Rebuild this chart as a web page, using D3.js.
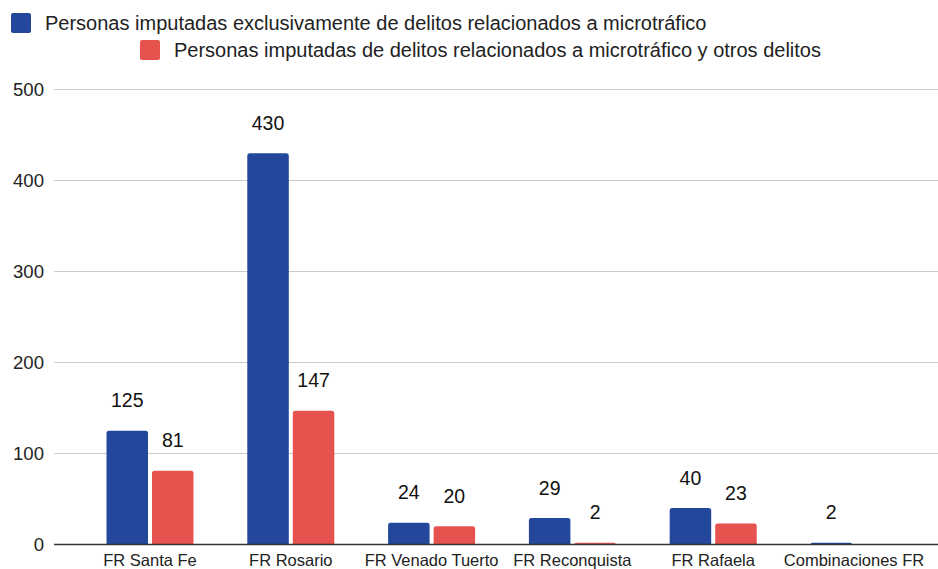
<!DOCTYPE html>
<html>
<head>
<meta charset="utf-8">
<script src="https://cdn.jsdelivr.net/npm/d3@7"></script>
<style>
  body { margin: 0; background: #fff; }
  svg text { font-family: Arial, "Liberation Sans", sans-serif; }
</style>
</head>
<body>
<svg id="chart" width="938" height="569"></svg>
<script>
var categories = ["FR Santa Fe", "FR Rosario", "FR Venado Tuerto", "FR Reconquista", "FR Rafaela", "Combinaciones FR"];
var exclusivos = [125, 430, 24, 29, 40, 2];
var conOtros = [81, 147, 20, 2, 23, null];
var seriesNames = [
    "Personas imputadas exclusivamente de delitos relacionados a microtráfico",
    "Personas imputadas de delitos relacionados a microtráfico y otros delitos"
];
var colors = ["#23479a", "#e6524d"];
var yTicks = [0, 100, 200, 300, 400, 500];

var svg = d3.select("#chart");

var x0 = d3.scaleBand()
    .domain(categories)
    .range([79.6, 924.4])
    .paddingInner(0.382)
    .paddingOuter(0.191);
var x1 = d3.scaleBand()
    .domain([0, 1])
    .range([0, x0.bandwidth()])
    .paddingInner(0.088);
var y = d3.scaleLinear()
    .domain([0, 500])
    .range([544.5, 89.5]);

// grid lines
svg.append("g")
    .selectAll("line")
    .data(yTicks.slice(1))
    .enter().append("line")
    .attr("x1", 54).attr("x2", 938)
    .attr("y1", function (d) { return y(d); })
    .attr("y2", function (d) { return y(d); })
    .attr("stroke", "#cccccc")
    .attr("stroke-width", 1);

// y tick labels
svg.append("g")
    .selectAll("text")
    .data(yTicks)
    .enter().append("text")
    .attr("x", 44)
    .attr("y", function (d) { return y(d) + 6.8; })
    .attr("text-anchor", "end")
    .attr("font-size", 18.6)
    .attr("fill", "#222")
    .text(function (d) { return d; });

function barPath(x, yTop, w, h, r) {
    if (h <= 0) return "";
    r = Math.min(r, h, w / 2);
    return "M" + x + "," + (yTop + h) +
        "V" + (yTop + r) +
        "Q" + x + "," + yTop + " " + (x + r) + "," + yTop +
        "H" + (x + w - r) +
        "Q" + (x + w) + "," + yTop + " " + (x + w) + "," + (yTop + r) +
        "V" + (yTop + h) + "Z";
}

var rows = [];
categories.forEach(function (c, i) {
    [exclusivos[i], conOtros[i]].forEach(function (v, s) {
        if (v !== null) rows.push({ cat: c, s: s, v: v });
    });
});

var bars = svg.append("g");
bars.selectAll("path")
    .data(rows)
    .enter().append("path")
    .attr("d", function (d) {
        var bx = x0(d.cat) + x1(d.s);
        return barPath(bx, y(d.v), x1.bandwidth(), y(0) - y(d.v), 2.5);
    })
    .attr("fill", function (d) { return colors[d.s]; });

// value labels
svg.append("g")
    .selectAll("text")
    .data(rows)
    .enter().append("text")
    .attr("x", function (d) { return x0(d.cat) + x1(d.s) + x1.bandwidth() / 2; })
    .attr("y", function (d) { return y(d.v) - 23.5; })
    .attr("text-anchor", "middle")
    .attr("font-size", 19.5)
    .attr("fill", "#111")
    .text(function (d) { return d.v; });

// baseline
svg.append("line")
    .attr("x1", 54).attr("x2", 938)
    .attr("y1", y(0)).attr("y2", y(0))
    .attr("stroke", "#333")
    .attr("stroke-width", 1.3);

// category labels
svg.append("g")
    .selectAll("text")
    .data(categories)
    .enter().append("text")
    .attr("x", function (d) { return x0(d) + x0.bandwidth() / 2; })
    .attr("y", 566)
    .attr("text-anchor", "middle")
    .attr("font-size", 16.5)
    .attr("fill", "#222")
    .text(function (d) { return d; });

// legend
var legendPos = [{ x: 11, y: 13 }, { x: 140, y: 40 }];
var legend = svg.append("g")
    .selectAll("g")
    .data(seriesNames)
    .enter().append("g")
    .attr("transform", function (d, i) { return "translate(" + legendPos[i].x + "," + legendPos[i].y + ")"; });
legend.append("rect")
    .attr("width", 20).attr("height", 20)
    .attr("rx", 2)
    .attr("fill", function (d, i) { return colors[i]; });
legend.append("text")
    .attr("x", 34)
    .attr("y", 16.5)
    .attr("font-size", 20)
    .attr("fill", "#222")
    .text(function (d) { return d; });
</script>
</body>
</html>
